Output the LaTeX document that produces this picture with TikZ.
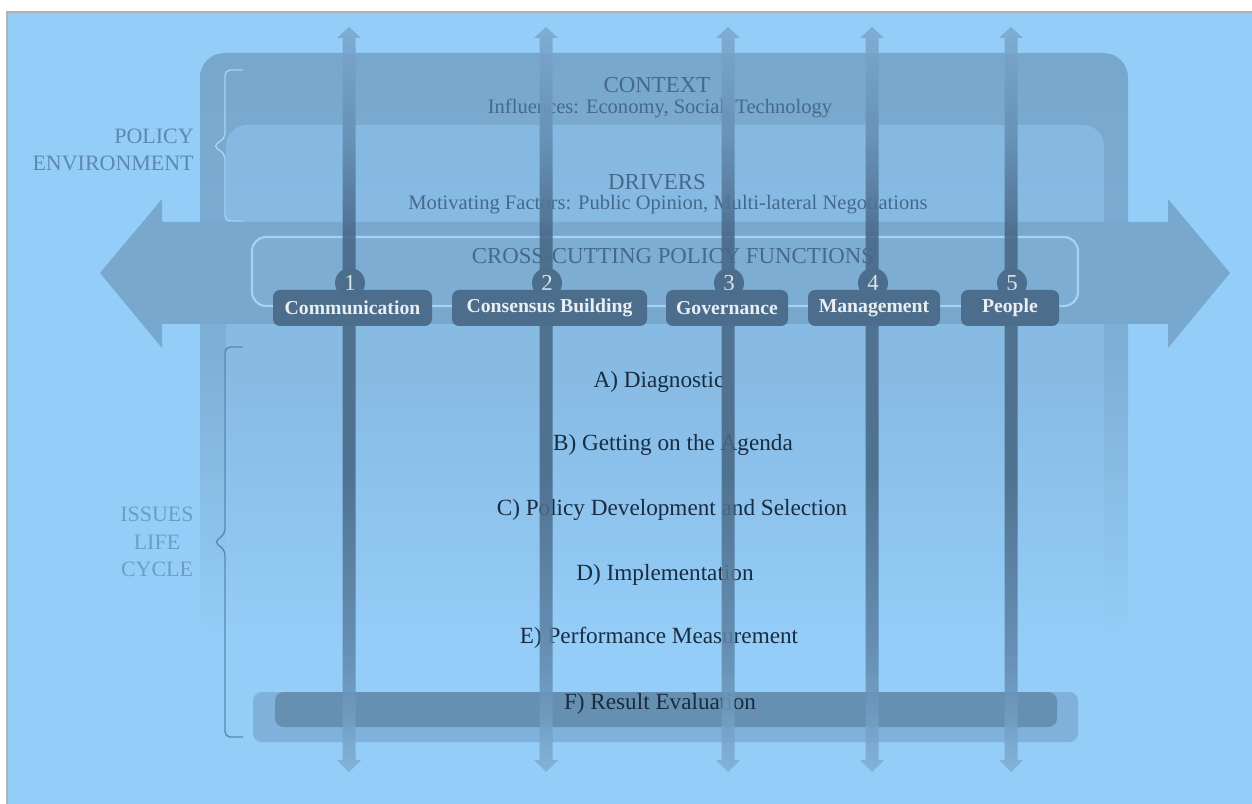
\documentclass[tikz,border=0pt]{standalone}
\usepackage{fontspec}
\setmainfont{Liberation Serif}
\definecolor{bgblue}{HTML}{94CDF8}
\definecolor{framebl}{HTML}{78A7CD}
\definecolor{innerbl}{HTML}{86B9E2}
\definecolor{shaftbl}{HTML}{78A8CE}
\definecolor{crossbl}{HTML}{7DADD3}
\definecolor{edgebl}{HTML}{A6D2F3}
\definecolor{boxdark}{HTML}{4C6E8C}
\definecolor{titletxt}{HTML}{46698A}
\definecolor{stagetxt}{HTML}{1A2C40}
\definecolor{sidetxt}{HTML}{5D89AE}
\definecolor{resultout}{HTML}{80B1DA}
\definecolor{resultin}{HTML}{6690B2}
\definecolor{vtop}{HTML}{7CA9CF}
\definecolor{vmidtop}{HTML}{6690B5}
\definecolor{vdark}{HTML}{486886}
\definecolor{vmidbot}{HTML}{6088AB}
\definecolor{vbot}{HTML}{80AFD6}
\pgfdeclareverticalshading{vbarshade}{100bp}{color(0bp)=(vbot); color(25bp)=(vbot);
  color(33bp)=(vmidbot); color(45bp)=(vdark); color(61bp)=(vdark); color(68bp)=(vmidtop);
  color(75bp)=(vtop); color(100bp)=(vtop)}

\begin{document}
\begin{tikzpicture}[x=0.2mm, y=0.2mm,
  titlenode/.style={text=titletxt, inner sep=0pt, font=\fontsize{13}{15}\selectfont},
  subnode/.style={text=titletxt, inner sep=0pt, font=\fontsize{11.7}{13}\selectfont},
  sidenode/.style={text=sidetxt, inner sep=0pt, align=center, font=\fontsize{12.5}{15.5}\selectfont},
  stagenode/.style={text=stagetxt, inner sep=0pt, font=\fontsize{13.2}{15}\selectfont},
  funcbox/.style={fill=boxdark, rounded corners=4pt, inner sep=0pt, minimum height=0.72cm,
    text=white!88!boxdark, font=\bfseries\fontsize{11.2}{12}\selectfont},
  numdisc/.style={circle, fill=boxdark, inner sep=0pt, minimum size=0.6cm,
    text=white!80!boxdark, font=\fontsize{13}{14}\selectfont},
  vshaft/.style={shading=vbarshade, fill opacity=0.88},
  bracket/.style={line width=0.8pt, rounded corners=3pt}]
\useasboundingbox (0,0) rectangle (1252,-804);

% background
\fill [bgblue] (7,-12) rectangle (1252,-804);
\draw [gray!60, line width=0.6pt] (7,-804) -- (7,-12) -- (1252,-12);

% frame and inner box
\shade [top color=framebl, bottom color=bgblue, middle color=framebl!80!bgblue, rounded corners=14pt] (200,-53) rectangle (1128,-640);
\shade [top color=innerbl, bottom color=bgblue, middle color=innerbl!90!bgblue, rounded corners=12pt] (226,-125) rectangle (1104,-640);

% braces
\draw [bracket, edgebl] (243,-70) -- (225,-70) -- (225,-138) -- (213,-146) -- (225,-154) -- (225,-221) -- (243,-221);
\draw [bracket, sidetxt] (243,-347) -- (225,-347) -- (225,-534) -- (214,-542) -- (225,-550) -- (225,-737) -- (243,-737);

% big double arrow
\fill [shaftbl] (100,-273) -- (162,-199) -- (162,-222) -- (1168,-222) -- (1168,-199) -- (1230,-273)
  -- (1168,-348) -- (1168,-324) -- (162,-324) -- (162,-348) -- cycle;
\draw [edgebl, fill=crossbl, line width=1.2pt, rounded corners=8pt] (252,-237) rectangle (1078,-306);

% result box
\fill [resultout, rounded corners=5pt] (253,-692) rectangle (1078,-742);
\fill [resultin, rounded corners=5pt] (275,-692) rectangle (1057,-727);

% texts
\node [sidenode, anchor=east, align=right] (polenv) at (194,-150) {POLICY\\ENVIRONMENT};
\node [sidenode, text=sidetxt!70!bgblue] (issues) at (157,-542) {ISSUES\\LIFE\\CYCLE};
\node [titlenode] (context) at (657,-85) {CONTEXT};
\node [subnode] (influences) at (660,-108) {Influences: Economy, Social, Technology};
\node [titlenode] (drivers) at (657,-182) {DRIVERS};
\node [subnode] (motivating) at (668,-205) {Motivating Factors: Public Opinion, Multi-lateral Negotiations};
\node [titlenode] (crosscut) at (673,-256) {CROSS-CUTTING POLICY FUNCTIONS};
\node [stagenode] (diag) at (659,-382) {A) Diagnostic};
\node [stagenode] (agenda) at (673,-445) {B) Getting on the Agenda};
\node [stagenode] (select) at (672,-510) {C) Policy Development and Selection};
\node [stagenode] (impl) at (665,-575) {D) Implementation};
\node [stagenode] (perf) at (659,-638) {E) Performance Measurement};
\node [stagenode] (result) at (660,-704) {F) Result Evaluation};

% vertical arrows
\shade [vshaft] (349,-27) -- (361,-38) -- (355.5,-38) -- (355.5,-760) -- (361,-760) -- (349,-772) -- (337,-760) -- (342.5,-760) -- (342.5,-38) -- (337,-38) -- cycle;
\shade [vshaft] (546,-27) -- (558,-38) -- (552.5,-38) -- (552.5,-760) -- (558,-760) -- (546,-772) -- (534,-760) -- (539.5,-760) -- (539.5,-38) -- (534,-38) -- cycle;
\shade [vshaft] (728,-27) -- (740,-38) -- (734.5,-38) -- (734.5,-760) -- (740,-760) -- (728,-772) -- (716,-760) -- (721.5,-760) -- (721.5,-38) -- (716,-38) -- cycle;
\shade [vshaft] (872,-27) -- (884,-38) -- (878.5,-38) -- (878.5,-760) -- (884,-760) -- (872,-772) -- (860,-760) -- (865.5,-760) -- (865.5,-38) -- (860,-38) -- cycle;
\shade [vshaft] (1011,-27) -- (1023,-38) -- (1017.5,-38) -- (1017.5,-760) -- (1023,-760) -- (1011,-772) -- (999,-760) -- (1004.5,-760) -- (1004.5,-38) -- (999,-38) -- cycle;

% function boxes
\node [numdisc] (n1) at (350,-283) {1};
\node [numdisc] (n2) at (547,-283) {2};
\node [numdisc] (n3) at (729,-283) {3};
\node [numdisc] (n4) at (873,-283) {4};
\node [numdisc] (n5) at (1012,-283) {5};
\node [funcbox, minimum width=3.18cm] (comm) at (352.5,-308) {Communication};
\node [funcbox, minimum width=3.9cm] (cons) at (549.5,-308) {Consensus Building};
\node [funcbox, minimum width=2.44cm] (gov) at (727,-308) {Governance};
\node [funcbox, minimum width=2.64cm] (mgmt) at (874,-308) {Management};
\node [funcbox, minimum width=1.96cm] (ppl) at (1010,-308) {People};
\end{tikzpicture}
\end{document}
